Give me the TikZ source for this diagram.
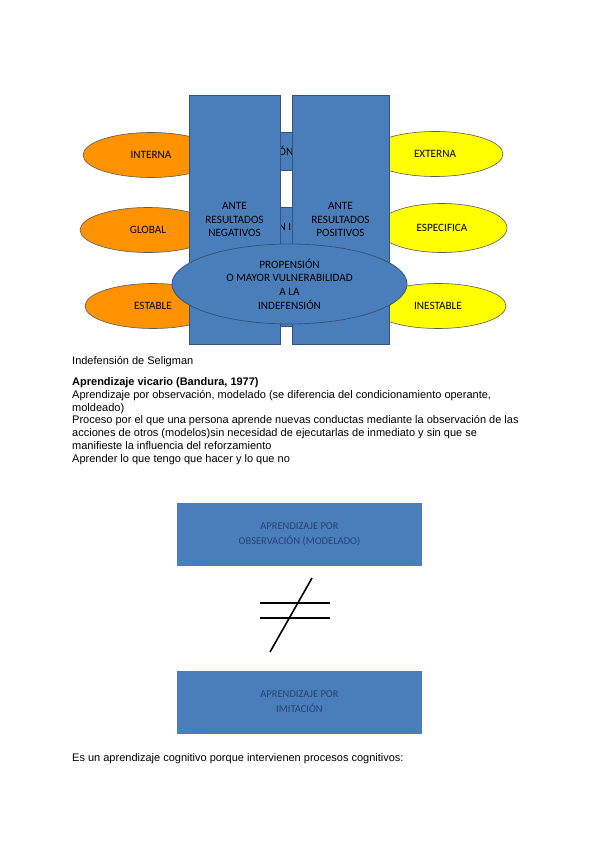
\documentclass[tikz,border=0pt]{standalone}
\usepackage{fontspec}
\setmainfont{Liberation Sans}
\newfontfamily\calibri{Carlito}
\usetikzlibrary{shapes.geometric, positioning}
\definecolor{boxblue}{RGB}{74, 126, 187}
\definecolor{boxline}{RGB}{52, 84, 128}
\definecolor{ovalorange}{RGB}{255, 146, 0}
\definecolor{ovalyellow}{RGB}{255, 255, 0}
\definecolor{ovalline}{RGB}{90, 90, 90}
\definecolor{softtext}{RGB}{38, 66, 115}

\begin{document}
\begin{tikzpicture}[
    x=1pt, y=-1pt,
    tallbox/.style={rectangle, draw=boxline, fill=boxblue, line width=0.8pt, minimum width=#1, minimum height=249pt, inner sep=0pt, font=\calibri\fontsize{11.2}{13.3}\selectfont, align=center},
    gapbox/.style={rectangle, draw=boxline, fill=boxblue, line width=0.6pt, minimum width=40pt, inner sep=0pt, font=\calibri\fontsize{11.2}{13}\selectfont},
    side/.style={ellipse, draw=ovalline, line width=0.6pt, minimum width=136pt, minimum height=45pt, inner sep=0pt, font=\calibri\fontsize{11.2}{12}\selectfont},
    centeroval/.style={ellipse, draw=boxline, fill=boxblue, line width=0.8pt, minimum width=235pt, minimum height=80pt, inner sep=0pt, font=\calibri\fontsize{11.2}{13.6}\selectfont, align=center},
    flatbox/.style={rectangle, fill=boxblue, minimum width=245pt, minimum height=63pt, inner sep=0pt, text=softtext, font=\calibri\fontsize{10.5}{15}\selectfont, align=center},
    bodytext/.style={anchor=base west, inner sep=0pt, font=\fontsize{11}{12.7}\selectfont, align=left}
]
    \useasboundingbox[fill=white] (0,0) rectangle (600,848);

    % Boxes behind the gap
    \node[gapbox, minimum height=38pt] (gaptop) at (286,151) {ÓN};
    \node[gapbox, minimum height=119pt] (gapmid) at (286,266.5) {};
    \node[font=\calibri\fontsize{11.2}{13}\selectfont, inner sep=0pt] (gapmidtext) at (285,227) {N I};

    % Attributions
    \node[side, fill=ovalorange] (interna) at (151,155) {INTERNA};
    \node[side, fill=ovalorange] (global) at (148,230) {GLOBAL};
    \node[side, fill=ovalorange] (estable) at (153,306) {ESTABLE};
    \node[side, fill=ovalyellow] (externa) at (435,154) {EXTERNA};
    \node[side, fill=ovalyellow, minimum width=130pt, minimum height=49pt] (especifica) at (442,228) {ESPECIFICA};
    \node[side, fill=ovalyellow] (inestable) at (438,306) {INESTABLE};

    \node[tallbox=91pt] (negativos) at (234.5,219.5) {ANTE\\RESULTADOS\\NEGATIVOS};
    \node[tallbox=97pt] (positivos) at (340.5,219.5) {ANTE\\RESULTADOS\\POSITIVOS};
    \node[centeroval] (propension) at (289.5,284) {PROPENSIÓN\\O MAYOR VULNERABILIDAD\\A LA\\INDEFENSIÓN};

    % Text
    \node[bodytext] (caption) at (72,364) {Indefensión de Seligman};
    \node[bodytext] (vicario) at (72,462) {\textbf{Aprendizaje vicario (Bandura, 1977)}\\
        Aprendizaje por observación, modelado (se diferencia del condicionamiento operante,\\
        moldeado)\\
        Proceso por el que una persona aprende nuevas conductas mediante la observación de las\\
        acciones de otros (modelos)sin necesidad de ejecutarlas de inmediato y sin que se\\
        manifieste la influencia del reforzamiento\\
        Aprender lo que tengo que hacer y lo que no};

    \node[flatbox] (observacion) at (299.5,534.5) {APRENDIZAJE POR\\OBSERVACIÓN (MODELADO)};
    \node[flatbox] (imitacion) at (299.5,702) {APRENDIZAJE POR\\IMITACIÓN};

    % Not equal
    \coordinate (neqtop) at (312,578);
    \coordinate (neqbot) at (270,652);
    \draw[line width=1.6pt] (260,603) -- (330,603);
    \draw[line width=1.6pt] (260,618) -- (330,618);
    \draw[line width=1.6pt] (neqtop) -- (neqbot);

    \node[bodytext] (cognitivo) at (72,761) {Es un aprendizaje cognitivo porque intervienen procesos cognitivos:};
\end{tikzpicture}
\end{document}
